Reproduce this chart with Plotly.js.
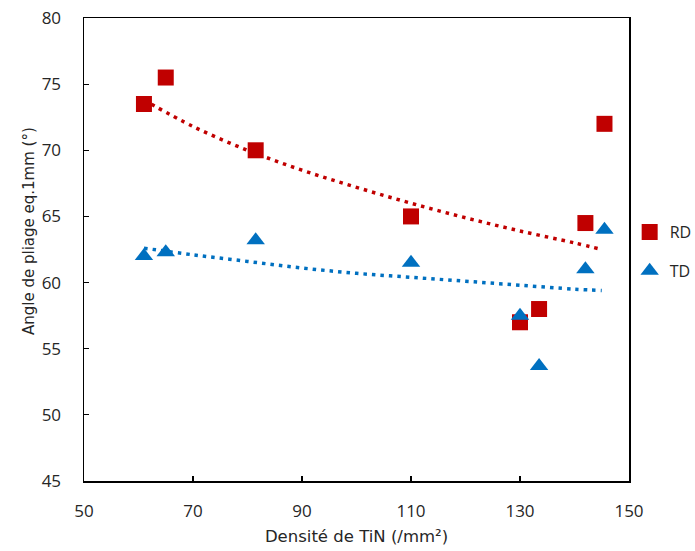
<!DOCTYPE html>
<html>
<head>
<meta charset="utf-8">
<script src="https://cdn.plot.ly/plotly-3.0.1.min.js"></script>
<style>html,body{margin:0;padding:0;background:#fff;}#chart{width:695px;height:551px;}</style>
</head>
<body>
<div id="chart"></div>
<script>
// Data
const densityTiN = [61, 65, 81.5, 110, 130, 133.5, 142, 145.5];
const angleRD = [73.5, 75.5, 70, 65, 57, 58, 64.5, 72];
const angleTD = [62, 62.3, 63.2, 61.5, 57.5, 53.7, 61, 64];

// Trendline values
const trendX = [61, 70, 80, 90, 100, 110, 120, 130, 140, 145];
const trendRD = [73.8, 71.8, 70.0, 68.5, 67.2, 66.0, 64.9, 63.9, 63.0, 62.5];
const trendTD = [62.6, 62.1, 61.6, 61.1, 60.7, 60.4, 60.1, 59.8, 59.5, 59.4];

const xTicks = [50, 70, 90, 110, 130, 150];
const yTicks = [45, 50, 55, 60, 65, 70, 75, 80];

const red = '#C00000', blue = '#0070C0';
const fontFam = '"Open Sans", sans-serif';
const titleFam = '"DejaVu Sans", sans-serif';
const txtColor = '#262626';

const traces = [
  {x: trendX, y: trendRD, mode: 'lines', line: {color: red, width: 3.5, dash: '3.5px,5px', shape: 'spline'}, showlegend: false, hoverinfo: 'skip'},
  {x: trendX, y: trendTD, mode: 'lines', line: {color: blue, width: 3.5, dash: '3.5px,5px', shape: 'spline'}, showlegend: false, hoverinfo: 'skip'},
  {x: densityTiN, y: angleRD, name: 'RD', mode: 'markers', legendgroup: 'a',
   marker: {symbol: 'square', size: 16, color: red}},
  {x: densityTiN, y: angleTD, name: 'TD', mode: 'markers', legendgroup: 'b',
   marker: {symbol: 'triangle-up', size: 16, color: blue}}
];

const axisCommon = {
  showgrid: false, zeroline: false, showline: true, mirror: true,
  linecolor: '#000', linewidth: 1.5, ticks: 'inside', ticklen: 5, tickwidth: 1.2, tickcolor: '#000',
  tickfont: {family: fontFam, size: 17, color: txtColor}
};

const layout = {
  width: 695, height: 551,
  margin: {l: 84, r: 66, t: 18, b: 70},
  paper_bgcolor: '#fff', plot_bgcolor: '#fff',
  font: {family: fontFam, color: txtColor},
  xaxis: Object.assign({}, axisCommon, {
    range: [50, 150], tickvals: xTicks, ticktext: xTicks.map(String), ticklabelstandoff: 14,
    title: {text: 'Densité de TiN (/mm²)', font: {family: titleFam, size: 16.5, color: txtColor}, standoff: 9}
  }),
  yaxis: Object.assign({}, axisCommon, {
    range: [45, 80], tickvals: yTicks, ticktext: yTicks.map(String), ticklabelstandoff: 18
  }),
  annotations: [{
    text: 'Angle de pliage eq.1mm (°)', textangle: -90, xref: 'paper', yref: 'paper',
    x: 0, y: 1 - (231 - 18) / 463, xanchor: 'center', yanchor: 'middle', xshift: -55, showarrow: false,
    font: {family: titleFam, size: 15, color: txtColor}
  }],
  legend: {xref: 'container', yref: 'container', x: 0.906, y: 1 - 215 / 551, xanchor: 'left', yanchor: 'top',
           font: {family: fontFam, size: 16, color: txtColor},
           traceorder: 'grouped', tracegroupgap: 15, bgcolor: 'rgba(0,0,0,0)'},
  showlegend: true
};

Plotly.newPlot('chart', traces, layout, {displayModeBar: false, staticPlot: true});
</script>
</body>
</html>
